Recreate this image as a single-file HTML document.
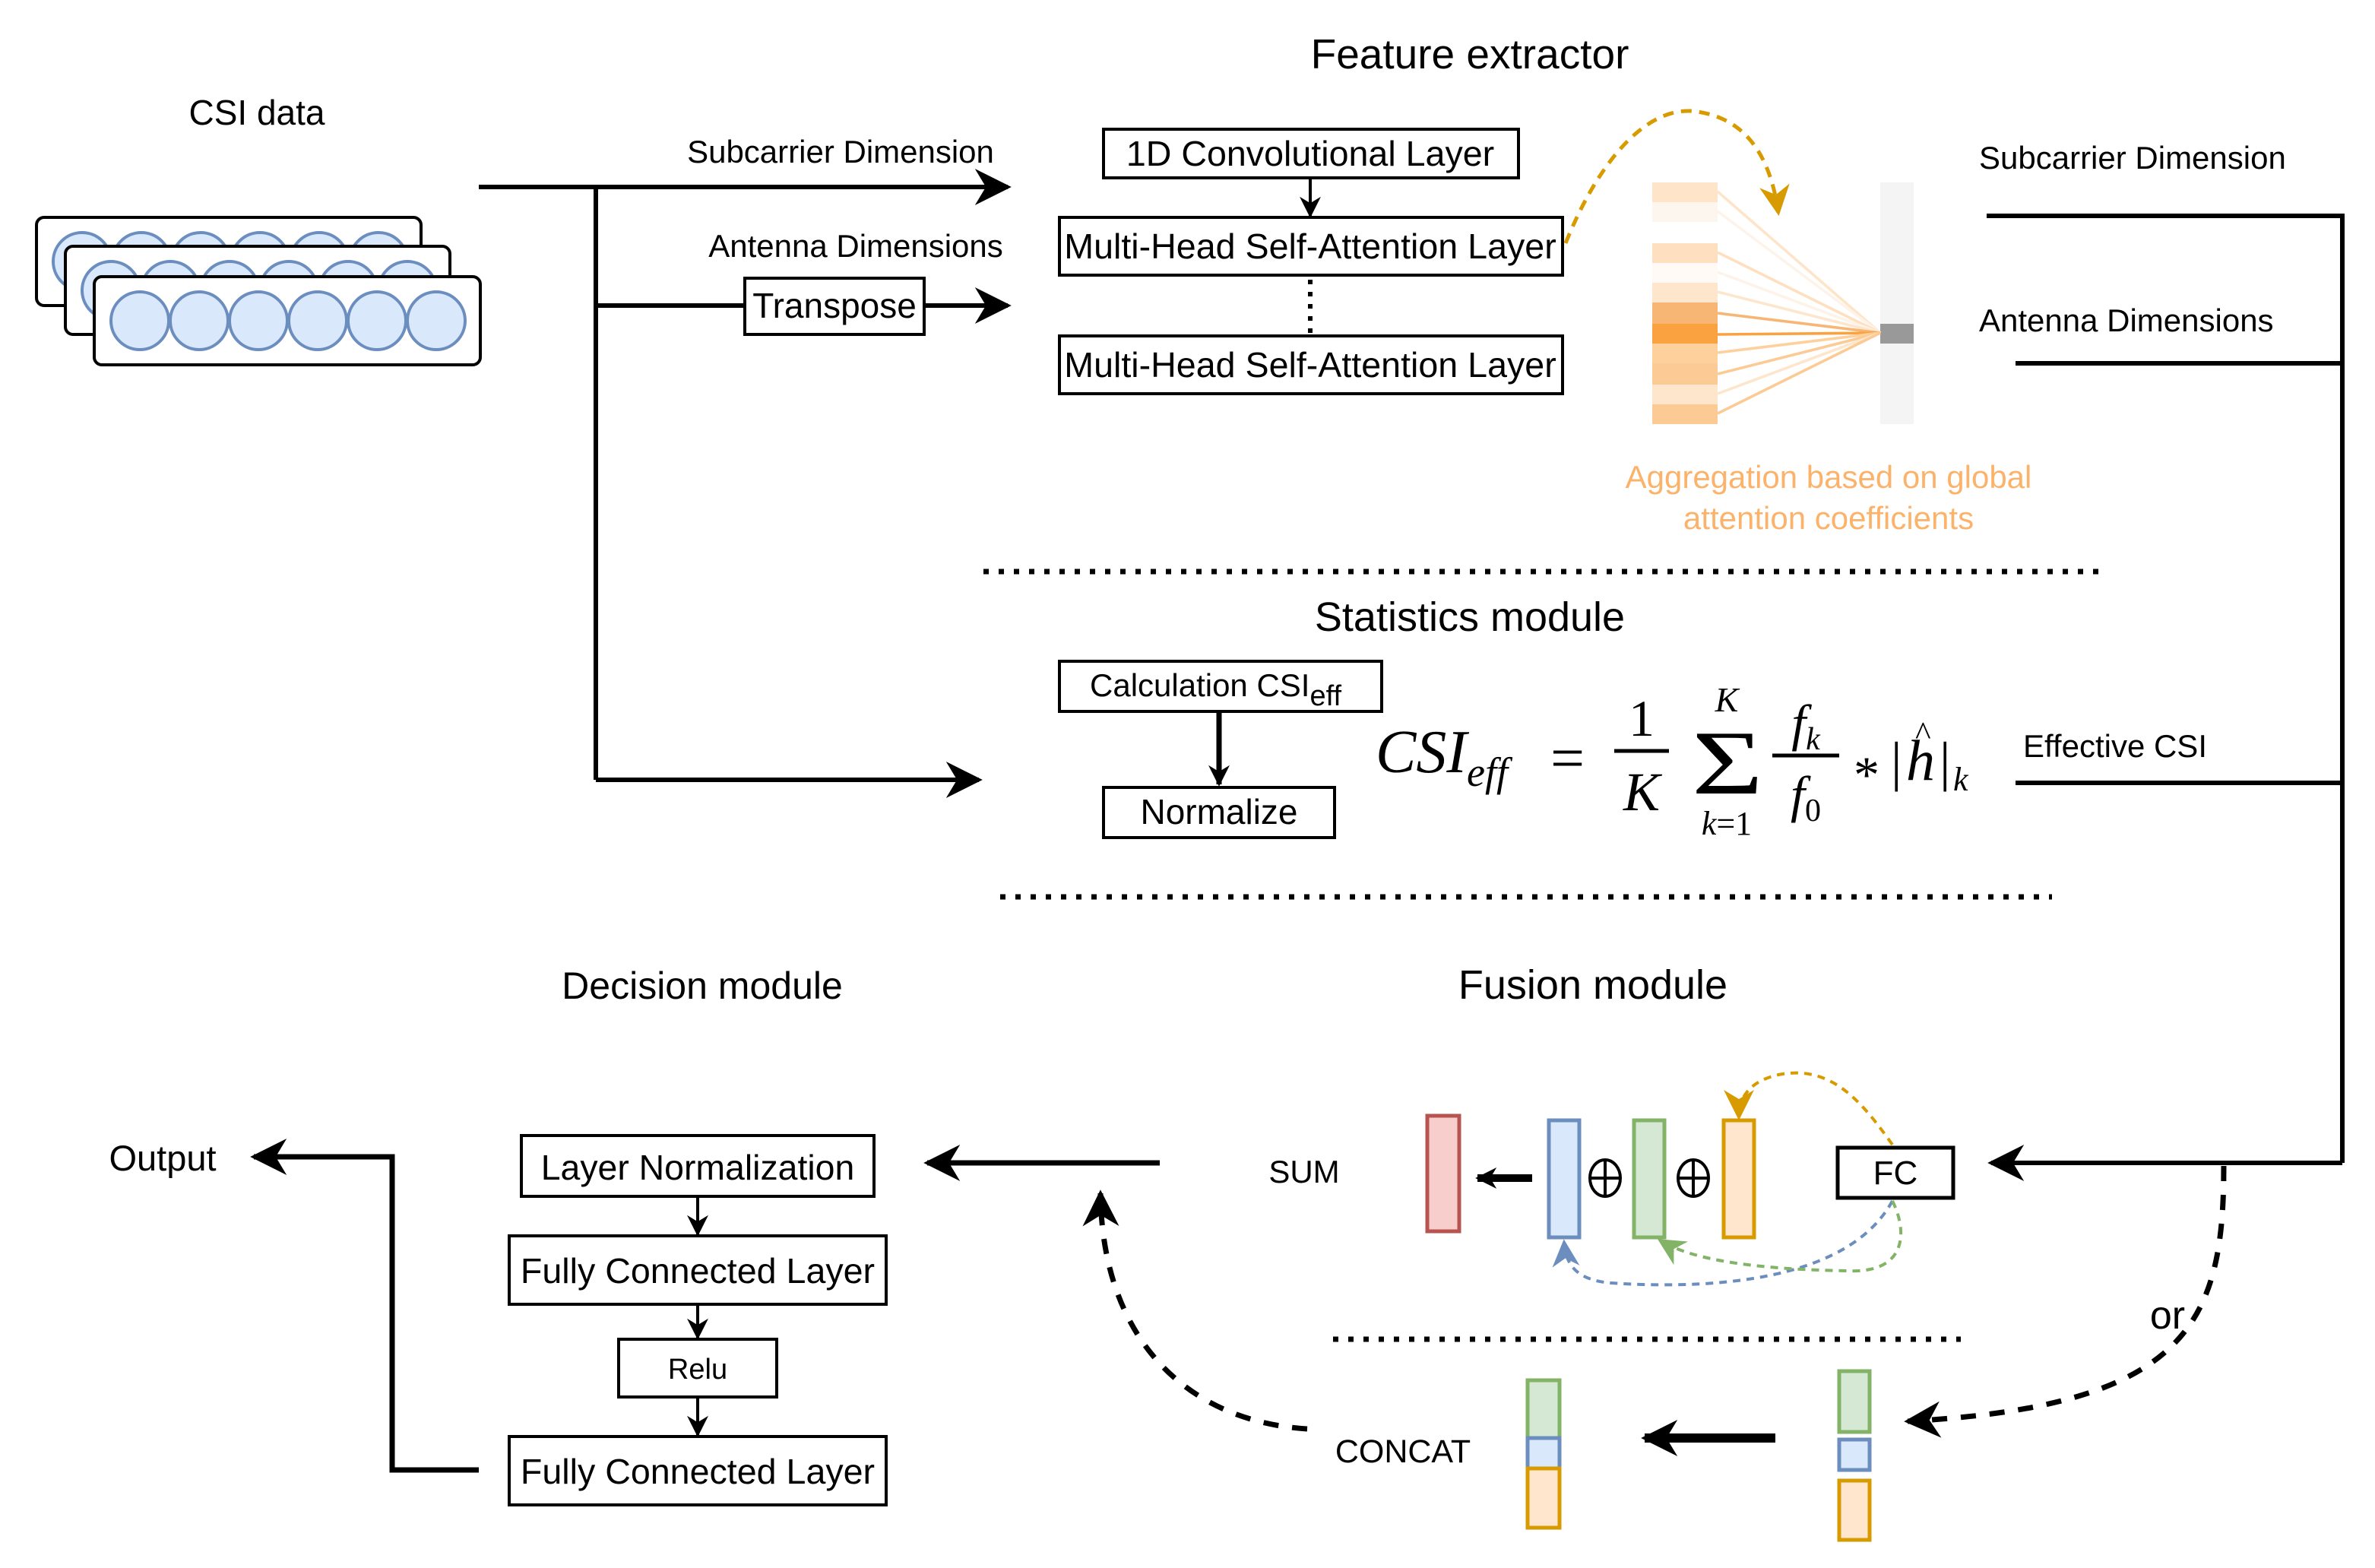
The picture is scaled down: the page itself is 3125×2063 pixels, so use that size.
<!DOCTYPE html>
<html><head><meta charset="utf-8"><style>
html,body{margin:0;padding:0;background:#fff;}
svg{display:block;}
text{font-family:"Liberation Sans",sans-serif;fill:#000;}
.m{font-family:"Liberation Serif",serif;font-style:italic;}
</style></head><body>
<svg width="3125" height="2063" viewBox="0 0 1562.5 1031.5" xmlns="http://www.w3.org/2000/svg">
<defs>
<marker id="aB" viewBox="0 0 10 10" refX="9" refY="5" markerWidth="24" markerHeight="24" orient="auto" markerUnits="userSpaceOnUse"><path d="M0,0 L10,5 L0,10 L3,5z" fill="#000"/></marker>
<marker id="aS" viewBox="0 0 10 10" refX="9" refY="5" markerWidth="14" markerHeight="14" orient="auto" markerUnits="userSpaceOnUse"><path d="M0,0 L10,5 L0,10 L3,5z" fill="#000"/></marker>
<marker id="aO" viewBox="0 0 10 10" refX="9" refY="5" markerWidth="20" markerHeight="20" orient="auto" markerUnits="userSpaceOnUse"><path d="M0,0 L10,5 L0,10 L3,5z" fill="#d79b00"/></marker>
<marker id="aBl" viewBox="0 0 10 10" refX="9" refY="5" markerWidth="18" markerHeight="18" orient="auto" markerUnits="userSpaceOnUse"><path d="M0,0 L10,5 L0,10 L3,5z" fill="#6c8ebf"/></marker>
<marker id="aG" viewBox="0 0 10 10" refX="9" refY="5" markerWidth="18" markerHeight="18" orient="auto" markerUnits="userSpaceOnUse"><path d="M0,0 L10,5 L0,10 L3,5z" fill="#82b366"/></marker>
</defs>

<text x="967" y="45" font-size="27.5" text-anchor="middle">Feature extractor</text>
<text x="169" y="82" font-size="23" text-anchor="middle">CSI data</text>
<text x="967" y="415" font-size="27" text-anchor="middle">Statistics module</text>
<text x="462" y="657" font-size="25" text-anchor="middle">Decision module</text>
<text x="1048" y="657" font-size="27" text-anchor="middle">Fusion module</text>

<rect x="24" y="143" width="253" height="58" rx="5" stroke="#000" stroke-width="2" fill="#fff"/>
<g fill="#dae8fc" stroke="#6c8ebf" stroke-width="2">
<circle cx="54" cy="172" r="19"/><circle cx="93" cy="172" r="19"/><circle cx="132" cy="172" r="19"/><circle cx="171" cy="172" r="19"/><circle cx="210" cy="172" r="19"/><circle cx="249" cy="172" r="19"/>
</g>
<rect x="43" y="162" width="253" height="58" rx="5" stroke="#000" stroke-width="2" fill="#fff"/>
<g fill="#dae8fc" stroke="#6c8ebf" stroke-width="2">
<circle cx="73" cy="191" r="19"/><circle cx="112" cy="191" r="19"/><circle cx="151" cy="191" r="19"/><circle cx="190" cy="191" r="19"/><circle cx="229" cy="191" r="19"/><circle cx="268" cy="191" r="19"/>
</g>
<rect x="62" y="182" width="254" height="58" rx="5" stroke="#000" stroke-width="2" fill="#fff"/>
<g fill="#dae8fc" stroke="#6c8ebf" stroke-width="2">
<circle cx="92" cy="211" r="19"/><circle cx="131" cy="211" r="19"/><circle cx="170" cy="211" r="19"/><circle cx="209" cy="211" r="19"/><circle cx="248" cy="211" r="19"/><circle cx="287" cy="211" r="19"/>
</g>

<g stroke="#000" stroke-width="3" fill="none">
<line x1="315" y1="123" x2="663" y2="123" marker-end="url(#aB)"/>
<line x1="392" y1="123" x2="392" y2="513"/>
<line x1="392" y1="201" x2="490" y2="201"/>
<line x1="608" y1="201" x2="663" y2="201" marker-end="url(#aB)"/>
<line x1="392" y1="513" x2="644" y2="513" marker-end="url(#aB)"/>
</g>
<text x="553" y="107" font-size="21" text-anchor="middle">Subcarrier Dimension</text>
<text x="563" y="169" font-size="21" text-anchor="middle">Antenna Dimensions</text>
<rect x="490" y="183" width="118" height="37" fill="#fff" stroke="#000" stroke-width="2"/>
<text x="549" y="209" font-size="23" text-anchor="middle">Transpose</text>

<g fill="#fff" stroke="#000" stroke-width="2">
<rect x="726" y="85" width="273" height="32"/>
<rect x="697" y="143" width="331" height="38"/>
<rect x="697" y="221" width="331" height="38"/>
</g>
<text x="862" y="109" font-size="23.3" text-anchor="middle">1D Convolutional Layer</text>
<text x="862" y="170" font-size="23.3" text-anchor="middle">Multi-Head Self-Attention Layer</text>
<text x="862" y="248" font-size="23.3" text-anchor="middle">Multi-Head Self-Attention Layer</text>
<line x1="862" y1="117" x2="862" y2="142" stroke="#000" stroke-width="2" marker-end="url(#aS)"/>
<line x1="862" y1="184" x2="862" y2="220" stroke="#000" stroke-width="3" stroke-dasharray="3,5"/>

<path d="M1030,160 C1050,110 1080,72 1112,73 C1150,76 1165,105 1170,140" fill="none" stroke="#d79b00" stroke-width="2.5" stroke-dasharray="7,5" marker-end="url(#aO)"/>

<g>
<rect x="1087" y="120" width="43" height="13" fill="#fee4c8"/>
<rect x="1087" y="133" width="43" height="13" fill="#fdf6ef"/>
<rect x="1087" y="160" width="43" height="13" fill="#fee0c0"/>
<rect x="1087" y="173" width="43" height="13" fill="#fffaf5"/>
<rect x="1087" y="186" width="43" height="13" fill="#fee6cc"/>
<rect x="1087" y="199" width="43" height="14" fill="#f7b673"/>
<rect x="1087" y="213" width="43" height="13" fill="#fba240"/>
<rect x="1087" y="226" width="43" height="13" fill="#fdd09c"/>
<rect x="1087" y="239" width="43" height="14" fill="#fccb95"/>
<rect x="1087" y="253" width="43" height="13" fill="#fee6cc"/>
<rect x="1087" y="266" width="43" height="13" fill="#fccb95"/>
<rect x="1237" y="120" width="22" height="159" fill="#f4f4f4"/>
<rect x="1237" y="213" width="22" height="13" fill="#999"/>
<g stroke-width="1.8">
<line x1="1130" y1="126" x2="1237" y2="219" stroke="#fee4c8"/>
<line x1="1130" y1="139" x2="1237" y2="219" stroke="#fdf3e8"/>
<line x1="1130" y1="166" x2="1237" y2="219" stroke="#fee0c0"/>
<line x1="1130" y1="179" x2="1237" y2="219" stroke="#fdf3e8"/>
<line x1="1130" y1="192" x2="1237" y2="219" stroke="#fee6cc"/>
<line x1="1130" y1="206" x2="1237" y2="219" stroke="#f7b673"/>
<line x1="1130" y1="220" x2="1237" y2="219" stroke="#fba240"/>
<line x1="1130" y1="232" x2="1237" y2="219" stroke="#fdd09c"/>
<line x1="1130" y1="246" x2="1237" y2="219" stroke="#fccb95"/>
<line x1="1130" y1="259" x2="1237" y2="219" stroke="#fee6cc"/>
<line x1="1130" y1="272" x2="1237" y2="219" stroke="#fccb95"/>
</g>
</g>
<text x="1203" y="321" font-size="21" text-anchor="middle" style="fill:#fbb36b">Aggregation based on global</text>
<text x="1203" y="348" font-size="21" text-anchor="middle" style="fill:#fbb36b">attention coefficients</text>

<text x="1302" y="111" font-size="21">Subcarrier Dimension</text>
<text x="1302" y="218" font-size="21">Antenna Dimensions</text>
<text x="1331" y="498" font-size="21">Effective CSI</text>

<g stroke="#000" stroke-width="3" fill="none">
<polyline points="1307,142 1541,142 1541,765"/>
<line x1="1326" y1="239" x2="1541" y2="239"/>
<line x1="1326" y1="515" x2="1541" y2="515"/>
<line x1="1541" y1="765" x2="1310" y2="765" marker-end="url(#aB)"/>
</g>

<g stroke="#000" stroke-width="3.5" stroke-dasharray="3.5,6.5">
<line x1="647" y1="376" x2="1383" y2="376"/>
<line x1="658" y1="590" x2="1350" y2="590"/>
<line x1="877" y1="881" x2="1290" y2="881"/>
</g>

<rect x="697" y="435" width="212" height="33" fill="#fff" stroke="#000" stroke-width="2"/>
<text x="717" y="458" font-size="21">Calculation CSI<tspan font-size="19" dy="6">eff</tspan></text>
<line x1="802" y1="468" x2="802" y2="516" stroke="#000" stroke-width="3.5" marker-end="url(#aS)"/>
<rect x="726" y="518" width="152" height="33" fill="#fff" stroke="#000" stroke-width="2"/>
<text x="802" y="542" font-size="23" text-anchor="middle">Normalize</text>

<text class="m" x="905" y="508" font-size="40">CSI<tspan font-size="27" dy="9">eff</tspan></text>
<text class="m" x="1020" y="512" font-size="40" style="font-style:normal">=</text>
<text class="m" x="1080" y="484" font-size="34" text-anchor="middle" style="font-style:normal">1</text>
<line x1="1062" y1="494" x2="1098" y2="494" stroke="#000" stroke-width="2.5"/>
<text class="m" x="1080" y="533" font-size="36" text-anchor="middle">K</text>
<text class="m" x="1113" y="522" font-size="60" textLength="47" lengthAdjust="spacingAndGlyphs" style="font-style:normal">Σ</text>
<text class="m" x="1136" y="468" font-size="23" text-anchor="middle">K</text>
<text class="m" x="1136" y="549" font-size="22" text-anchor="middle">k<tspan style="font-style:normal">=1</tspan></text>
<text class="m" x="1188" y="487" font-size="34" text-anchor="middle">f<tspan font-size="21" dy="6">k</tspan></text>
<line x1="1166" y1="497" x2="1210" y2="497" stroke="#000" stroke-width="2.5"/>
<text class="m" x="1188" y="534" font-size="34" text-anchor="middle">f<tspan font-size="21" dy="6" style="font-style:normal">0</tspan></text>
<text class="m" x="1228" y="521" font-size="34" text-anchor="middle" style="font-style:normal">*</text>
<text class="m" x="1244" y="513" font-size="36" style="font-style:normal">|</text>
<text class="m" x="1254" y="513" font-size="38">h</text>
<text class="m" x="1260" y="490" font-size="22" style="font-style:normal">^</text>
<text class="m" x="1276" y="513" font-size="36" style="font-style:normal">|</text>
<text class="m" x="1285" y="520" font-size="22">k</text>

<text x="858" y="778" font-size="21" text-anchor="middle">SUM</text>
<rect x="939" y="734" width="21" height="76" fill="#f8cecc" stroke="#b85450" stroke-width="2.5"/>
<line x1="1008" y1="775" x2="972" y2="775" stroke="#000" stroke-width="5" marker-end="url(#aS)"/>
<rect x="1019" y="737" width="20" height="77" fill="#dae8fc" stroke="#6c8ebf" stroke-width="2.5"/>
<rect x="1075" y="737" width="20" height="77" fill="#d5e8d4" stroke="#82b366" stroke-width="2.5"/>
<rect x="1134" y="737" width="20" height="77" fill="#ffe6cc" stroke="#d79b00" stroke-width="2.5"/>
<g stroke="#000" stroke-width="2" fill="none">
<ellipse cx="1056" cy="775" rx="10" ry="12"/><line x1="1046" y1="775" x2="1066" y2="775"/><line x1="1056" y1="763" x2="1056" y2="787"/>
<ellipse cx="1114" cy="775" rx="10" ry="12"/><line x1="1104" y1="775" x2="1124" y2="775"/><line x1="1114" y1="763" x2="1114" y2="787"/>
</g>
<rect x="1209" y="755" width="76" height="33" fill="#fff" stroke="#000" stroke-width="2.5"/>
<text x="1247" y="779" font-size="22" text-anchor="middle">FC</text>
<path d="M1245,753 C1225,725 1205,700 1170,707 C1148,712 1144,725 1144,735" fill="none" stroke="#d79b00" stroke-width="2" stroke-dasharray="5,4" marker-end="url(#aO)"/>
<path d="M1245,790 C1215,845 1120,848 1060,844 C1035,842 1030,830 1029,817" fill="none" stroke="#6c8ebf" stroke-width="2" stroke-dasharray="5,4" marker-end="url(#aBl)"/>
<path d="M1245,790 C1255,810 1255,838 1215,836 C1160,835 1115,830 1092,816" fill="none" stroke="#82b366" stroke-width="2" stroke-dasharray="5,4" marker-end="url(#aG)"/>

<path d="M1463,767 C1463,870 1440,925 1255,935" fill="none" stroke="#000" stroke-width="3.5" stroke-dasharray="10,9" marker-end="url(#aB)"/>
<text x="1426" y="874" font-size="26" text-anchor="middle">or</text>

<text x="923" y="962" font-size="21.5" text-anchor="middle">CONCAT</text>
<line x1="1168" y1="946" x2="1082" y2="946" stroke="#000" stroke-width="6" marker-end="url(#aB)"/>
<rect x="1005" y="908" width="21" height="38" fill="#d5e8d4" stroke="#82b366" stroke-width="2.5"/>
<rect x="1005" y="946" width="21" height="20" fill="#dae8fc" stroke="#6c8ebf" stroke-width="2.5"/>
<rect x="1005" y="966" width="21" height="39" fill="#ffe6cc" stroke="#d79b00" stroke-width="2.5"/>
<rect x="1210" y="902" width="20" height="40" fill="#d5e8d4" stroke="#82b366" stroke-width="2.5"/>
<rect x="1210" y="947" width="20" height="20" fill="#dae8fc" stroke="#6c8ebf" stroke-width="2.5"/>
<rect x="1210" y="974" width="20" height="39" fill="#ffe6cc" stroke="#d79b00" stroke-width="2.5"/>
<path d="M860,940 C780,935 725,880 724,785" fill="none" stroke="#000" stroke-width="3.5" stroke-dasharray="10,9" marker-end="url(#aB)"/>
<line x1="763" y1="765" x2="610" y2="765" stroke="#000" stroke-width="3.5" marker-end="url(#aB)"/>

<g fill="#fff" stroke="#000" stroke-width="2">
<rect x="343" y="747" width="232" height="40"/>
<rect x="335" y="813" width="248" height="45"/>
<rect x="407" y="881" width="104" height="38"/>
<rect x="335" y="945" width="248" height="45"/>
</g>
<text x="459" y="776" font-size="23.2" text-anchor="middle">Layer Normalization</text>
<text x="459" y="844" font-size="23.3" text-anchor="middle">Fully Connected Layer</text>
<text x="459" y="907" font-size="19" text-anchor="middle">Relu</text>
<text x="459" y="976" font-size="23.3" text-anchor="middle">Fully Connected Layer</text>
<g stroke="#000" stroke-width="2">
<line x1="459" y1="787" x2="459" y2="812" marker-end="url(#aS)"/>
<line x1="459" y1="858" x2="459" y2="880" marker-end="url(#aS)"/>
<line x1="459" y1="919" x2="459" y2="944" marker-end="url(#aS)"/>
</g>
<polyline points="315,967 258,967 258,761 167,761" fill="none" stroke="#000" stroke-width="3.5" marker-end="url(#aB)"/>
<text x="107" y="770" font-size="23.5" text-anchor="middle">Output</text>
</svg>
</body></html>
